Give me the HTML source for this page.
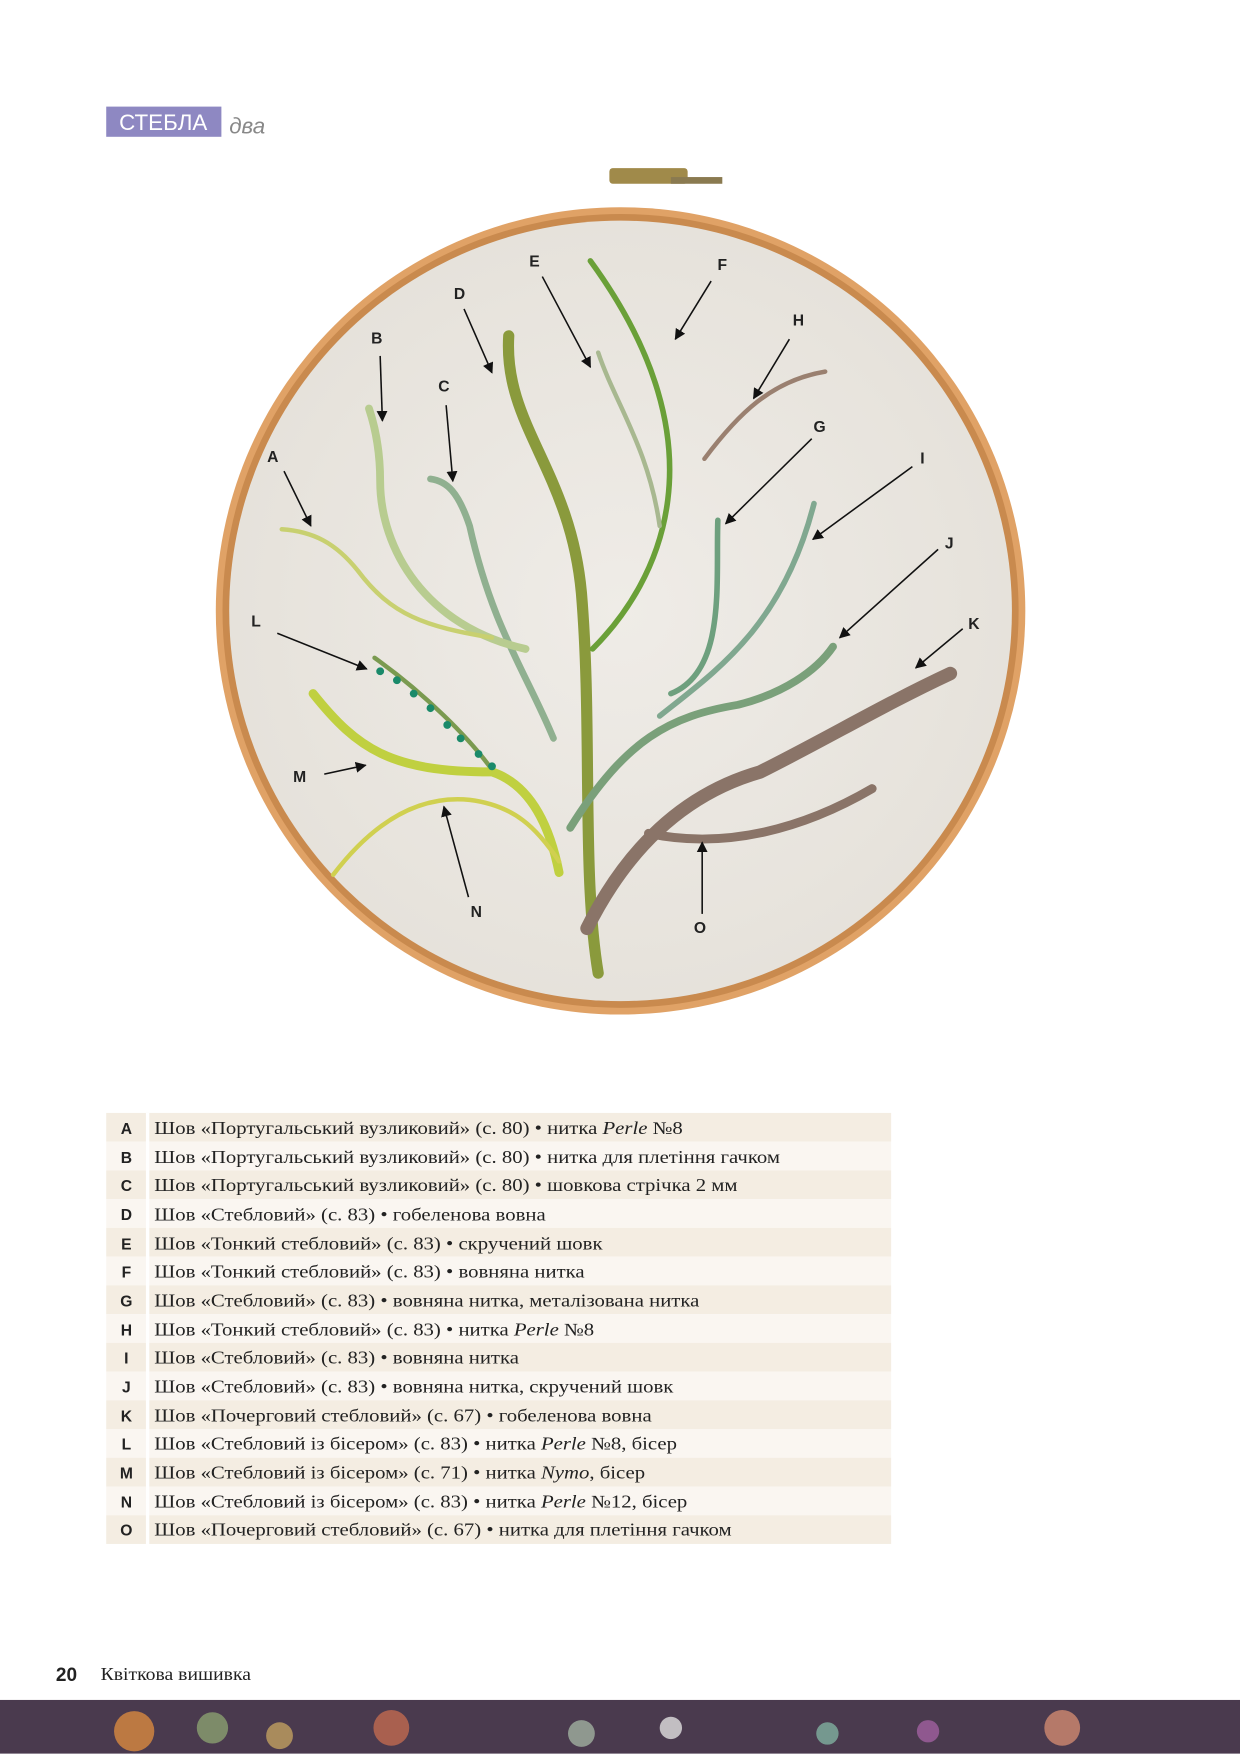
<!DOCTYPE html>
<html><head><meta charset="utf-8"><style>
html,body{margin:0;padding:0;background:#fff}
svg{display:block}
text{font-family:"Liberation Sans",sans-serif}
.t{font-family:"Liberation Serif",serif;font-size:16px;fill:#222}
.l{font-size:14px;font-weight:bold;fill:#222;text-anchor:middle}
.a{stroke:#111;stroke-width:1.4;fill:none;marker-end:url(#ar)}
</style></head><body>
<svg width="1240" height="1754" viewBox="0 0 1109 1568" xmlns="http://www.w3.org/2000/svg">
<defs>
<marker id="ar" viewBox="0 0 10 10" refX="9" refY="5" markerWidth="7" markerHeight="7" orient="auto"><path d="M0,0L10,5L0,10z" fill="#111"/></marker>
<radialGradient id="fab" cx="50%" cy="50%" r="50%"><stop offset="0" stop-color="#efece7"/><stop offset="1" stop-color="#e6e2db"/></radialGradient>
</defs>
<rect x="95" y="95" width="103" height="27" fill="#8e88c2"/>
<text x="146" y="116" font-size="20" fill="#fff" text-anchor="middle">СТЕБЛА</text>
<text x="205" y="119" font-size="20" fill="#888" font-style="italic">два</text>
<!-- hoop -->
<rect x="545" y="150" width="70" height="14" rx="3" fill="#a08a4a"/>
<rect x="600" y="158" width="46" height="6" fill="#8a7a50"/>
<ellipse cx="555" cy="546" rx="362" ry="361" fill="#e0a266"/>
<ellipse cx="555" cy="546" rx="356" ry="355" fill="#c98a4e"/>
<ellipse cx="555" cy="546" rx="350" ry="349" fill="url(#fab)"/>
<!-- stems -->
<g fill="none" stroke-linecap="round">
<path d="M535,870 C520,780 530,650 520,530 C510,420 450,380 455,300" stroke="#8a9a3c" stroke-width="10"/>
<path d="M525,830 C560,760 610,710 680,690 C740,660 790,630 850,602" stroke="#8a7468" stroke-width="12"/>
<path d="M580,745 C650,760 720,740 780,705" stroke="#8a7468" stroke-width="8"/>
<path d="M510,740 C560,660 600,640 660,630 C700,620 730,600 745,578" stroke="#7aa07a" stroke-width="7"/>
<path d="M590,640 C640,600 700,560 728,450" stroke="#80a890" stroke-width="5"/>
<path d="M600,620 C650,600 640,520 642,465" stroke="#6ea07e" stroke-width="5"/>
<path d="M530,580 C590,520 650,400 528,233" stroke="#6aa038" stroke-width="5"/>
<path d="M590,470 C580,400 550,360 535,315" stroke="#a8b890" stroke-width="4"/>
<path d="M630,410 C660,370 690,340 738,332" stroke="#9a8070" stroke-width="4"/>
<path d="M495,660 C470,600 440,560 420,470 C410,440 400,430 385,428" stroke="#90b090" stroke-width="6"/>
<path d="M470,580 C380,560 340,490 340,430 C340,400 335,380 330,365" stroke="#b8cc90" stroke-width="7"/>
<path d="M440,570 C380,560 350,550 320,510 C300,485 280,475 252,473" stroke="#c8d070" stroke-width="4"/>
<path d="M335,588 C380,620 420,660 440,688" stroke="#7a9a50" stroke-width="4"/>
<path d="M280,620 C320,670 350,690 440,690 C470,700 490,730 500,780" stroke="#c0d040" stroke-width="8"/>
<path d="M298,782 C330,740 370,710 420,715 C460,720 480,740 500,770" stroke="#d0d050" stroke-width="4"/>
</g>
<g fill="#1a8a6a"><circle cx="340" cy="600" r="3.5"/><circle cx="355" cy="608" r="3.5"/><circle cx="370" cy="620" r="3.5"/><circle cx="385" cy="633" r="3.5"/><circle cx="400" cy="648" r="3.5"/><circle cx="412" cy="660" r="3.5"/><circle cx="428" cy="674" r="3.5"/><circle cx="440" cy="685" r="3.5"/></g>
<!-- labels -->
<text class="l" x="244" y="413">A</text><path class="a" d="M254,421 L278,470"/>
<text class="l" x="337" y="307">B</text><path class="a" d="M340,318 L342,376"/>
<text class="l" x="397" y="350">C</text><path class="a" d="M399,362 L405,430"/>
<text class="l" x="411" y="267">D</text><path class="a" d="M415,276 L440,333"/>
<text class="l" x="478" y="238">E</text><path class="a" d="M485,247 L528,328"/>
<text class="l" x="646" y="241">F</text><path class="a" d="M636,251 L604,303"/>
<text class="l" x="714" y="291">H</text><path class="a" d="M706,303 L674,356"/>
<text class="l" x="733" y="386">G</text><path class="a" d="M726,392 L649,468"/>
<text class="l" x="825" y="414">I</text><path class="a" d="M816,417 L727,482"/>
<text class="l" x="849" y="490">J</text><path class="a" d="M839,491 L751,570"/>
<text class="l" x="871" y="562">K</text><path class="a" d="M861,562 L819,597"/>
<text class="l" x="229" y="560">L</text><path class="a" d="M248,566 L328,598"/>
<text class="l" x="268" y="699">M</text><path class="a" d="M290,692 L327,684"/>
<text class="l" x="426" y="820">N</text><path class="a" d="M419,802 L397,721"/>
<text class="l" x="626" y="834">O</text><path class="a" d="M628,817 L628,753"/>
<!-- table -->
<g>
<rect x="95" y="995" width="702" height="25.7" fill="#f4ede2"/><rect x="95" y="1020.7" width="702" height="25.7" fill="#faf6f1"/>
<rect x="95" y="1046.4" width="702" height="25.7" fill="#f4ede2"/><rect x="95" y="1072.1" width="702" height="25.7" fill="#faf6f1"/>
<rect x="95" y="1097.8" width="702" height="25.7" fill="#f4ede2"/><rect x="95" y="1123.5" width="702" height="25.7" fill="#faf6f1"/>
<rect x="95" y="1149.2" width="702" height="25.7" fill="#f4ede2"/><rect x="95" y="1174.9" width="702" height="25.7" fill="#faf6f1"/>
<rect x="95" y="1200.6" width="702" height="25.7" fill="#f4ede2"/><rect x="95" y="1226.3" width="702" height="25.7" fill="#faf6f1"/>
<rect x="95" y="1252" width="702" height="25.7" fill="#f4ede2"/><rect x="95" y="1277.7" width="702" height="25.7" fill="#faf6f1"/>
<rect x="95" y="1303.4" width="702" height="25.7" fill="#f4ede2"/><rect x="95" y="1329.1" width="702" height="25.7" fill="#faf6f1"/>
<rect x="95" y="1354.8" width="702" height="25.7" fill="#f4ede2"/>
<line x1="132" y1="995" x2="132" y2="1381" stroke="#fff" stroke-width="3"/>
</g>
<text class="l" x="113" y="1014">A</text><text class="l" x="113" y="1040">B</text><text class="l" x="113" y="1065">C</text><text class="l" x="113" y="1091">D</text><text class="l" x="113" y="1117">E</text><text class="l" x="113" y="1142">F</text><text class="l" x="113" y="1168">G</text><text class="l" x="113" y="1194">H</text><text class="l" x="113" y="1219">I</text><text class="l" x="113" y="1245">J</text><text class="l" x="113" y="1271">K</text><text class="l" x="113" y="1296">L</text><text class="l" x="113" y="1322">M</text><text class="l" x="113" y="1348">N</text><text class="l" x="113" y="1373">O</text>
<g transform="translate(138,0) scale(1.16,1)">
<text class="t" x="0" y="1014">Шов «Португальський вузликовий» (с. 80) • нитка <tspan font-style="italic">Perle</tspan> №8</text>
<text class="t" x="0" y="1040">Шов «Португальський вузликовий» (с. 80) • нитка для плетіння гачком</text>
<text class="t" x="0" y="1065">Шов «Португальський вузликовий» (с. 80) • шовкова стрічка 2 мм</text>
<text class="t" x="0" y="1091">Шов «Стебловий» (с. 83) • гобеленова вовна</text>
<text class="t" x="0" y="1117">Шов «Тонкий стебловий» (с. 83) • скручений шовк</text>
<text class="t" x="0" y="1142">Шов «Тонкий стебловий» (с. 83) • вовняна нитка</text>
<text class="t" x="0" y="1168">Шов «Стебловий» (с. 83) • вовняна нитка, металізована нитка</text>
<text class="t" x="0" y="1194">Шов «Тонкий стебловий» (с. 83) • нитка <tspan font-style="italic">Perle</tspan> №8</text>
<text class="t" x="0" y="1219">Шов «Стебловий» (с. 83) • вовняна нитка</text>
<text class="t" x="0" y="1245">Шов «Стебловий» (с. 83) • вовняна нитка, скручений шовк</text>
<text class="t" x="0" y="1271">Шов «Почерговий стебловий» (с. 67) • гобеленова вовна</text>
<text class="t" x="0" y="1296">Шов «Стебловий із бісером» (с. 83) • нитка <tspan font-style="italic">Perle</tspan> №8, бісер</text>
<text class="t" x="0" y="1322">Шов «Стебловий із бісером» (с. 71) • нитка <tspan font-style="italic">Nymo</tspan>, бісер</text>
<text class="t" x="0" y="1348">Шов «Стебловий із бісером» (с. 83) • нитка <tspan font-style="italic">Perle</tspan> №12, бісер</text>
<text class="t" x="0" y="1373">Шов «Почерговий стебловий» (с. 67) • нитка для плетіння гачком</text>
</g>
<text x="50" y="1503" font-family="Liberation Serif,serif" font-size="17" font-weight="bold" fill="#222">20</text>
<text x="90" y="1502" class="t" font-size="16" transform="translate(90,0) scale(1.1,1) translate(-90,0)">Квіткова вишивка</text>
<rect x="0" y="1520" width="1109" height="48" fill="#4a3a4e"/>
<g fill-opacity="0.8">
<circle cx="120" cy="1548" r="18" fill="#d88a40"/><circle cx="190" cy="1545" r="14" fill="#8aa070"/><circle cx="250" cy="1552" r="12" fill="#c0a060"/>
<circle cx="350" cy="1545" r="16" fill="#c06a50"/><circle cx="520" cy="1550" r="12" fill="#a0b0a0"/><circle cx="600" cy="1545" r="10" fill="#e0e0e0"/>
<circle cx="740" cy="1550" r="10" fill="#80b0a0"/><circle cx="830" cy="1548" r="10" fill="#a060a0"/><circle cx="950" cy="1545" r="16" fill="#d08a70"/>
</g>
</svg>
</body></html>
